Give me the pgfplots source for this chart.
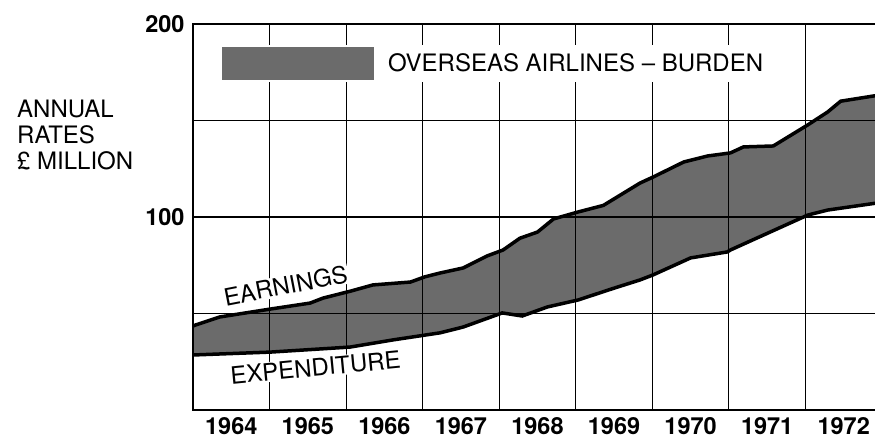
\documentclass[border=0pt]{standalone}
\usepackage{fontspec}
\setmainfont{TeX Gyre Heros}
\setsansfont{TeX Gyre Heros}
\usepackage{pgfplots}
\usepackage{pgfplotstable}
\pgfplotsset{compat=1.18}

\definecolor{burden}{gray}{0.42}
\newcommand\chartfont{\fontsize{23.5}{26}\selectfont}
\newcommand\labelfont{\fontsize{24}{26}\selectfont}

% annual rates, £ million
\pgfplotstableread{
year    earn
1964.00 43.5
1964.03 44.0
1964.35 48.2
1965.01 52.3
1965.53 55.4
1965.70 58.0
1966.05 61.5
1966.35 64.8
1966.84 66.3
1967.03 69.0
1967.23 71.0
1967.53 73.6
1967.84 79.8
1968.05 82.9
1968.27 89.0
1968.50 92.2
1968.71 99.0
1969.03 102.6
1969.36 106.0
1969.84 117.6
1970.01 120.7
1970.41 128.5
1970.72 131.6
1971.02 133.2
1971.19 136.3
1971.58 136.8
1972.03 147.7
1972.29 154.4
1972.46 160.0
1972.89 162.7
1972.95 163.0
}\earnings

\pgfplotstableread{
year    exp
1964.00 28.5
1965.01 30.0
1966.05 32.6
1966.61 36.3
1967.23 40.0
1967.53 43.0
1968.04 50.3
1968.30 48.7
1968.63 53.4
1969.03 57.0
1969.49 63.0
1969.84 67.4
1970.01 70.0
1970.50 78.8
1970.98 81.9
1971.02 82.9
1972.03 101.0
1972.29 103.6
1972.89 107.0
1972.95 107.2
}\expenditure

\begin{document}
\begin{tikzpicture}
\begin{axis}[
    at={(193pt,33pt)}, anchor=south west,
    scale only axis,
    width=689pt, height=386pt,
    xmin=1964, xmax=1973,
    ymin=0, ymax=200,
    xtick={1964.5,1965.5,...,1972.5},
    xticklabels={1964,1965,1966,1967,1968,1969,1970,1971,1972},
    minor xtick={1965,1966,...,1972},
    xminorgrids=true,
    ytick={50,100,150,200},
    yticklabels={,100,,200},
    ymajorgrids=true,
    major tick length=0pt, minor tick length=0pt,
    tick label style={font=\chartfont\bfseries},
    xticklabel style={yshift=-4pt},
    yticklabel style={xshift=-5pt},
    axis line style={line width=2.4pt},
    major grid style={black, line width=1.2pt},
    minor grid style={black, line width=1.2pt},
    axis on top,
    legend style={draw=none, fill=white, inner sep=2pt,
        at={(rel axis cs:0.039,0.898)}, anchor=west,
        font=\labelfont, column sep=12pt},
    legend image code/.code={\fill[#1] (0pt,-16.5pt) rectangle (152pt,16.5pt);},
]
% burden band: area under earnings, with the area under expenditure blanked
\addplot[fill=burden, draw=none, forget plot] table[x=year, y=earn] {\earnings} \closedcycle;
\addplot[fill=white, draw=none, forget plot] table[x=year, y=exp] {\expenditure} \closedcycle;
\addplot[black, line width=3.5pt, forget plot] table[x=year, y=earn] {\earnings};
\addplot[black, line width=3.5pt, forget plot] table[x=year, y=exp] {\expenditure};

\addlegendimage{fill=burden, draw=none}
\addlegendentry{OVERSEAS AIRLINES -- BURDEN}

\coordinate (earnlab) at (axis cs:1965.21,64.5);
\coordinate (explab) at (axis cs:1965.60,22.0);
\end{axis}
\node[font=\labelfont, rotate=11, fill=white, inner sep=1pt] at (earnlab) {EARNINGS};
\node[font=\labelfont, rotate=5.5, fill=white, inner sep=1pt] at (explab) {EXPENDITURE};
\node[font=\labelfont, align=left, anchor=north west, inner sep=0pt]
    at (17pt,343pt) {ANNUAL\\RATES\\£ MILLION};
\pgfresetboundingbox
\useasboundingbox (0,0) rectangle (875pt,443pt);
\end{tikzpicture}
\end{document}
